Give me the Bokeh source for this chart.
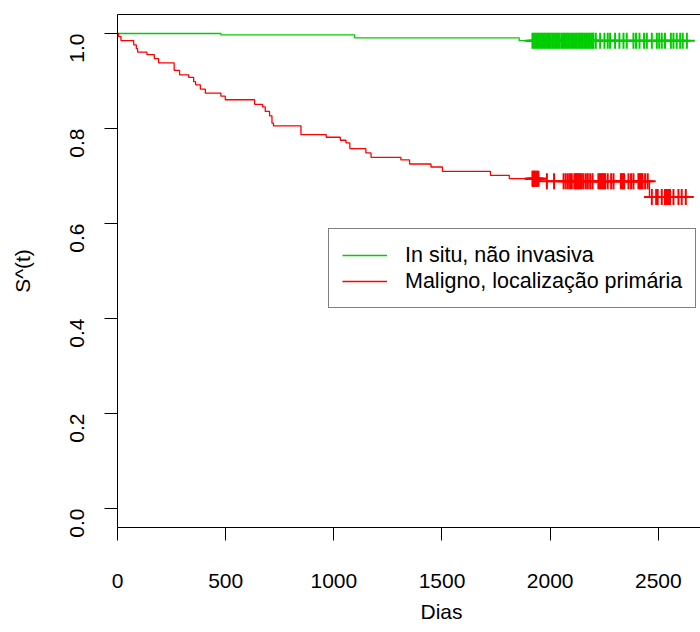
import math
import numpy as np
from bokeh.plotting import figure
from bokeh.models import Range1d, FixedTicker, PrintfTickFormatter, LinearAxis, Legend, LegendItem, Title
from bokeh.embed import file_html
from bokeh.resources import INLINE

# ---- data ----
series_labels = ["In situ, não invasiva", "Maligno, localização primária"]

green_times = [0, 478, 1096, 1857, 2632]
green_surv = [1.0, 0.997, 0.9908, 0.985, 0.985]
green_censor = [1918, 1925, 1931, 1938, 1944, 1950, 1957, 1963, 1970, 1976, 1983, 1990,
                1996, 2003, 2010, 2016, 2023, 2029, 2036, 2042,
                2051, 2057, 2064, 2070, 2077, 2083, 2090, 2097, 2103, 2110, 2117, 2123,
                2130, 2137, 2143, 2150, 2157, 2163, 2170, 2177, 2183, 2190, 2196, 2200,
                2211, 2231, 2251, 2266, 2277, 2300, 2320, 2339, 2354, 2385, 2397, 2413,
                2434, 2447, 2470, 2493, 2504, 2516, 2531, 2558, 2570, 2585, 2601, 2613, 2632]

red_times = [0, 5, 16, 75, 87, 93, 136, 170, 190, 262, 287, 329, 352, 361, 383, 406, 478, 498,
             634, 671, 683, 703, 714, 721, 848, 965, 1030, 1056, 1074, 1148, 1172, 1310, 1350,
             1449, 1502, 1724, 1811, 1955, 2459, 2627]
red_surv = [1.0, 0.9936, 0.9851, 0.976, 0.968, 0.961, 0.9556, 0.947, 0.938, 0.9225, 0.913,
            0.9077, 0.8985, 0.892, 0.883, 0.8746, 0.868, 0.8605, 0.851, 0.8457, 0.836, 0.8267,
            0.8112, 0.8056, 0.787, 0.7816, 0.7753, 0.7697, 0.7577, 0.7486, 0.7394, 0.7338,
            0.7253, 0.719, 0.7098, 0.7014, 0.6943, 0.6887, 0.656, 0.656]
red_censor = [1918, 1921, 1925, 1929, 1932, 1937, 1941, 1946, 1985, 2018,
              2062, 2072, 2082, 2092, 2100, 2112, 2117, 2121, 2126, 2130, 2135, 2140, 2146,
              2154, 2165, 2174, 2185, 2196, 2223, 2228, 2233, 2239, 2244, 2249, 2254,
              2266, 2282, 2293, 2327, 2331, 2337, 2342, 2362, 2374, 2385,
              2408, 2413, 2418, 2423, 2427, 2439, 2451,
              2470, 2490, 2497, 2516, 2531, 2536, 2541, 2546, 2550, 2554, 2570, 2593, 2608, 2627]

x_ticks = [0, 500, 1000, 1500, 2000, 2500]
y_ticks = [0.0, 0.2, 0.4, 0.6, 0.8, 1.0]
x_title = "Dias"
y_title = "S^(t)"

GREEN = "#00CD00"
RED = "#FF0000"
FONT = "Liberation Sans"
FS = "21px"

X_MIN, X_MAX = 0, 2695
Y_MIN, Y_MAX = -0.04, 1.04


def surv_at(times, surv, t):
    idx = np.searchsorted(np.array(times), np.array(t), side="right") - 1
    return np.array(surv)[idx]


p = figure(width=700, height=632, output_backend="svg", toolbar_location=None,
           x_range=Range1d(X_MIN, X_MAX), y_range=Range1d(Y_MIN, Y_MAX),
           min_border_left=117, min_border_right=0, min_border_top=14, min_border_bottom=105,
           y_axis_label=y_title)
p.grid.visible = False
p.outline_line_color = None
p.background_fill_color = "white"
p.border_fill_color = "white"

for ax in (p.xaxis[0], p.yaxis[0]):
    ax.axis_line_color = "black"
    ax.axis_line_width = 1
    ax.major_tick_line_color = "black"
    ax.major_tick_out = 13
    ax.major_tick_in = 0
    ax.minor_tick_line_color = None
    ax.major_label_text_font = FONT
    ax.major_label_text_font_size = FS
    ax.major_label_text_color = "black"
    ax.axis_label_text_font = FONT
    ax.axis_label_text_font_size = FS
    ax.axis_label_text_font_style = "normal"
    ax.axis_label_text_color = "black"

p.xaxis[0].ticker = FixedTicker(ticks=x_ticks)
p.xaxis[0].major_label_standoff = 33
p.yaxis[0].ticker = FixedTicker(ticks=y_ticks)
p.yaxis[0].formatter = PrintfTickFormatter(format="%.1f")
p.yaxis[0].major_label_orientation = math.pi / 2
p.yaxis[0].major_label_standoff = 28
p.yaxis[0].axis_label_standoff = 26

top = LinearAxis(ticker=FixedTicker(ticks=[]), major_tick_line_color=None,
                 minor_tick_line_color=None, major_label_text_font_size="0px",
                 axis_line_color="black")
p.add_layout(top, "above")

# x-axis title, centred on R's (wider, cropped) plot region
x_title_obj = Title(text=x_title, align="left", offset=303, standoff=15,
                    vertical_align="bottom",
                    text_font=FONT, text_font_size=FS, text_font_style="normal",
                    text_color="black")
p.add_layout(x_title_obj, "below")

g_line = p.step(x=green_times, y=green_surv, mode="after", line_color=GREEN, line_width=1.3)
r_line = p.step(x=red_times, y=red_surv, mode="after", line_color=RED, line_width=1.3)
p.scatter(x=green_censor, y=surv_at(green_times, green_surv, green_censor), marker="cross",
          size=16, line_color=GREEN, line_width=2)
p.scatter(x=red_censor, y=surv_at(red_times, red_surv, red_censor), marker="cross",
          size=16, line_color=RED, line_width=2)

legend = Legend(items=[LegendItem(label=series_labels[0], renderers=[g_line]),
                       LegendItem(label=series_labels[1], renderers=[r_line])],
                location=(211, 219), orientation="vertical",
                padding=13, spacing=0, margin=0,
                glyph_width=45, glyph_height=26, label_height=26, label_standoff=18,
                label_text_font=FONT, label_text_font_size="21.5px", label_text_color="black",
                border_line_color="black", border_line_width=1,
                background_fill_color="white", background_fill_alpha=1.0)
p.add_layout(legend, "center")

open("out.html", "w").write(file_html(p, INLINE))
